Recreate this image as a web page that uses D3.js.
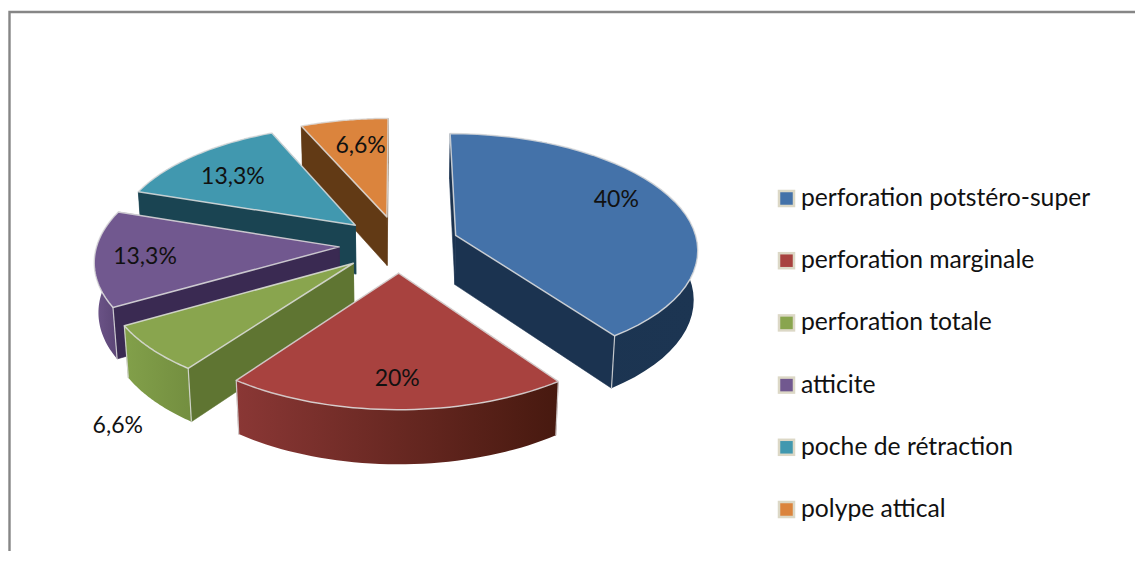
<!DOCTYPE html>
<html>
<head>
<meta charset="utf-8">
<script src="https://cdn.jsdelivr.net/npm/d3@7"></script>
<style>
html, body { margin: 0; padding: 0; background: #fff; }
svg { display: block; }
text { font-family: Lato, "Open Sans", sans-serif; fill: #111; }
</style>
</head>
<body>
<svg id="chart" width="1135" height="581"></svg>
<script>
var categories = ["perforation potstéro-super", "perforation marginale", "perforation totale", "atticite", "poche de rétraction", "polype attical"];
var values = [40, 20, 6.6, 13.3, 13.3, 6.6];
var labels = ["40%", "20%", "6,6%", "13,3%", "13,3%", "6,6%"];

var topColors = ["#4472a9", "#a8423f", "#89a54e", "#71588f", "#4198af", "#db843d"];
var wallColors = ["#1b3350", "#5a2422", "#5f7532", "#3a2a52", "#1a4452", "#623a15"];
var rimFrom = ["#1b3350", "#8a3735", "#82a04a", "#6d5589", "#1a4452", "#623a15"];
var rimTo = ["#1c3552", "#47190f", "#748f40", "#5b4575", "#1a4452", "#623a15"];

// label spot on each slice: share of the radius, turn from mid angle (deg)
var labelSpots = [[0.775, -7.3], [0.785, 0], [1.43, -14], [0.795, 0], [0.72, -2], [0.72, 2]];

var width = 1135, height = 581;
var cx = 399, cy = 244, R = 242, depth = 57, burst = 60;
var elev = 28.3 * Math.PI / 180, camera = 1956;

var svg = d3.select("#chart");

// chart frame, only the top and left are in the shot
svg.append("path")
    .attr("d", "M9.5,551V12H1135")
    .attr("fill", "none")
    .attr("stroke", "#868686")
    .attr("stroke-width", 2.4);

function project(x, y, z) {
    var s = camera / (camera + y * Math.cos(elev) - z * Math.sin(elev));
    return [cx + x * s, cy - (y * Math.sin(elev) + z * Math.cos(elev)) * s];
}

var pie = d3.pie().sort(null).value(function(d) { return d; });
var arcs = pie(values);
var line = d3.line();

var defs = svg.append("defs");

function slicePoint(d, r, a, z) {
    var mid = (d.startAngle + d.endAngle) / 2;
    return project(burst * Math.sin(mid) + r * Math.sin(a),
                   burst * Math.cos(mid) + r * Math.cos(a), z);
}

function arcPoints(d, z) {
    return d3.range(0, 41).map(function(i) {
        return slicePoint(d, R, d.startAngle + (d.endAngle - d.startAngle) * i / 40, z);
    });
}

// back slices first
var order = arcs.slice().sort(function(a, b) {
    return Math.cos((b.startAngle + b.endAngle) / 2) - Math.cos((a.startAngle + a.endAngle) / 2);
});

var edge = "rgba(222,222,222,0.85)";

order.forEach(function(d) {
    var i = d.index;
    var g = svg.append("g").attr("class", "slice");
    var apexTop = slicePoint(d, 0, 0, 0), apexLow = slicePoint(d, 0, 0, -depth);
    var top = arcPoints(d, 0), low = arcPoints(d, -depth);

    var outerX = top.map(function(p) { return p[0]; });
    var grad = defs.append("linearGradient")
        .attr("id", "rim" + i)
        .attr("gradientUnits", "userSpaceOnUse")
        .attr("x1", d3.min(outerX)).attr("x2", d3.max(outerX))
        .attr("y1", 0).attr("y2", 0);
    grad.append("stop").attr("offset", 0).attr("stop-color", rimFrom[i]);
    grad.append("stop").attr("offset", 1).attr("stop-color", rimTo[i]);

    var startWall = [apexTop, top[0], low[0], apexLow];
    var endWall = [apexTop, top[40], low[40], apexLow];
    // near wall goes on last
    var walls = Math.cos(d.startAngle) > Math.cos(d.endAngle) ? [startWall, endWall] : [endWall, startWall];
    walls.forEach(function(w) {
        g.append("path")
            .attr("d", line(w) + "Z")
            .attr("fill", wallColors[i])
            .attr("stroke", wallColors[i])
            .attr("stroke-width", 0.6);
    });

    g.append("path")
        .attr("d", line(top.concat(low.slice().reverse())) + "Z")
        .attr("fill", "url(#rim" + i + ")");

    // corners where the rim meets a radial wall
    if (Math.cos(d.endAngle) < 0) {
        g.append("path").attr("d", line([top[40], low[40]]))
            .attr("stroke", edge).attr("stroke-width", 1.2).attr("fill", "none");
    }
    if (Math.cos(d.startAngle) < 0) {
        g.append("path").attr("d", line([top[0], low[0]]))
            .attr("stroke", edge).attr("stroke-width", 1.2).attr("fill", "none");
    }

    g.append("path")
        .attr("d", line([apexTop].concat(top)) + "Z")
        .attr("fill", topColors[i])
        .attr("stroke", edge)
        .attr("stroke-width", 1.5)
        .attr("stroke-linejoin", "round");
});

svg.append("g").selectAll("text")
    .data(arcs)
    .enter()
    .append("text")
    .attr("text-anchor", "middle")
    .attr("font-size", 23)
    .attr("x", function(d) {
        var a = (d.startAngle + d.endAngle) / 2 + labelSpots[d.index][1] * Math.PI / 180;
        return slicePoint(d, R * labelSpots[d.index][0], a, 0)[0];
    })
    .attr("y", function(d) {
        var a = (d.startAngle + d.endAngle) / 2 + labelSpots[d.index][1] * Math.PI / 180;
        return slicePoint(d, R * labelSpots[d.index][0], a, 0)[1] + 8;
    })
    .text(function(d) { return labels[d.index]; });

// legend
var legendY = d3.scalePoint().domain(categories).range([198, 509]);

var legend = svg.append("g").selectAll("g")
    .data(categories)
    .enter()
    .append("g")
    .attr("transform", function(d) { return "translate(778," + legendY(d) + ")"; });

legend.append("rect")
    .attr("x", 1).attr("y", -7)
    .attr("width", 15).attr("height", 15)
    .attr("fill", function(d, i) { return topColors[i]; })
    .attr("stroke", "#dcd8c6")
    .attr("stroke-width", 2.5);

legend.append("text")
    .attr("x", 23)
    .attr("y", 8)
    .attr("font-size", 24.7)
    .text(function(d) { return d; });
</script>
</body>
</html>
